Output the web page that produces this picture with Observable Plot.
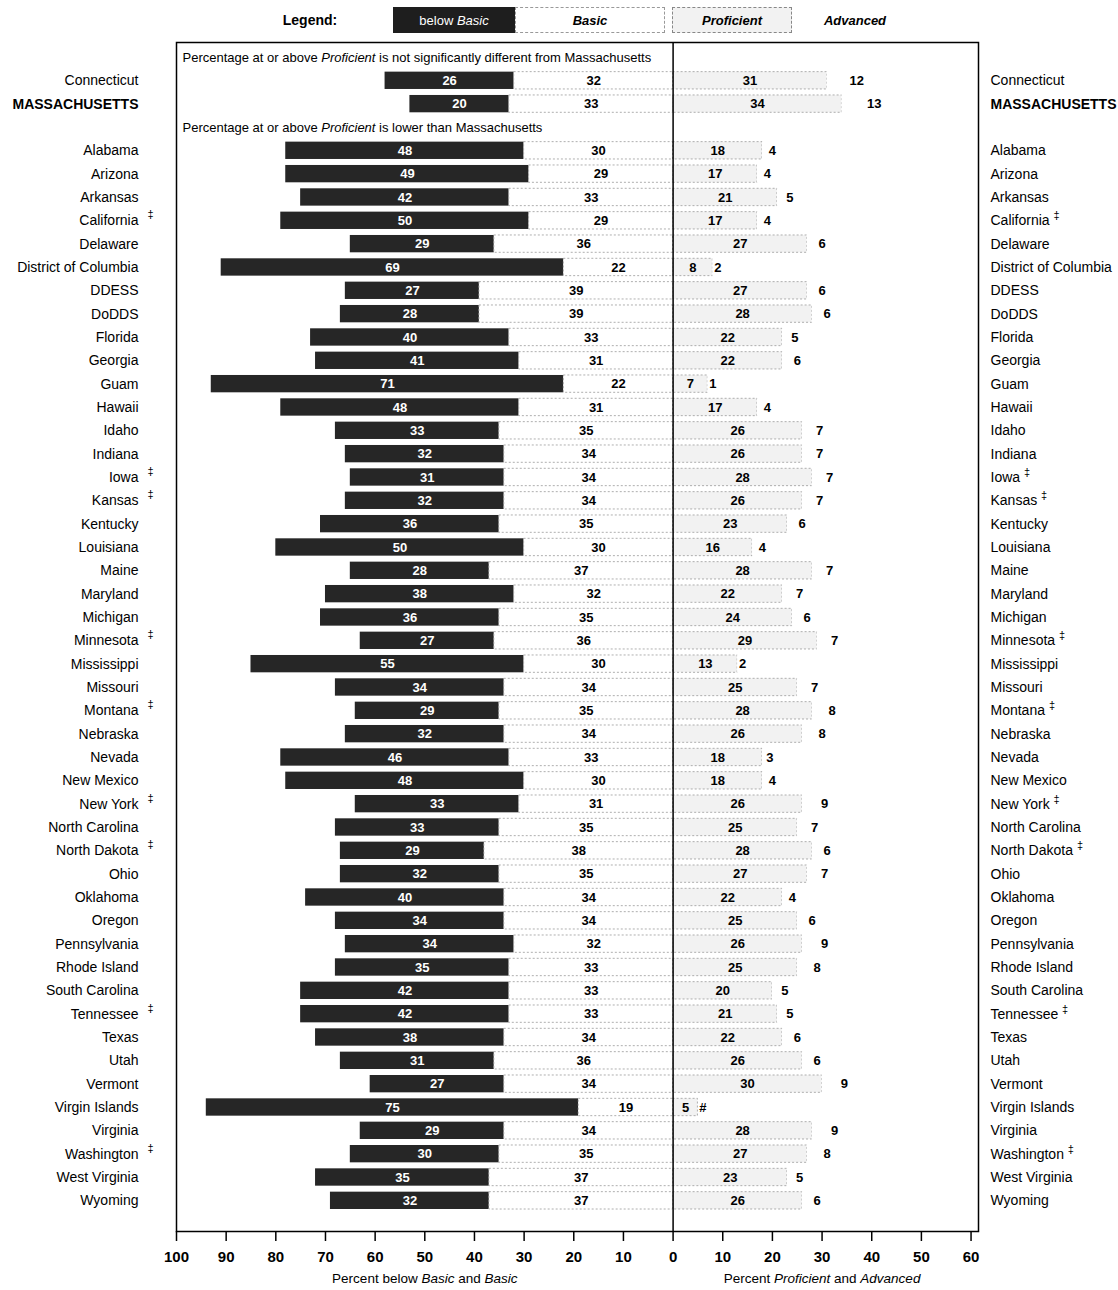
<!DOCTYPE html>
<html>
<head>
<meta charset="utf-8">
<script src="https://cdn.jsdelivr.net/npm/d3@7"></script>
<script src="https://cdn.jsdelivr.net/npm/@observablehq/plot@0.6"></script>
<style>
  body { margin: 0; background: #fff; font-family: "Liberation Sans", Arial, sans-serif; }
  #legend { position: relative; width: 1118px; height: 40px; }
  #legend div { position: absolute; box-sizing: border-box; font-weight: bold; font-size: 13px; display: flex; align-items: center; justify-content: center; }
  #chart svg { display: block; }
</style>
</head>
<body>
<div id="legend">
  <div style="left:270px;top:7px;width:80px;height:26px;font-size:14px;">Legend:</div>
  <div style="left:393px;top:7px;width:122px;height:26px;background:#1e1e1e;color:#fff;font-weight:normal;">below&nbsp;<i>Basic</i></div>
  <div style="left:515px;top:7px;width:150px;height:26px;border:1px dashed #999;font-style:italic;">Basic</div>
  <div style="left:672px;top:7px;width:120px;height:26px;border:1px dashed #888;background:#f2f2f2;font-style:italic;">Proficient</div>
  <div style="left:815px;top:7px;width:80px;height:26px;font-style:italic;">Advanced</div>
</div>
<div id="chart"></div>
<script>
// ---- data ----
const headers = [
  "Percentage at or above *Proficient* is not significantly different from Massachusetts",
  "Percentage at or above *Proficient* is lower than Massachusetts"
];
const groupTop = ["Connecticut", "MASSACHUSETTS"];
const groupLower = ["Alabama","Arizona","Arkansas","California","Delaware","District of Columbia","DDESS","DoDDS","Florida","Georgia","Guam","Hawaii","Idaho","Indiana","Iowa","Kansas","Kentucky","Louisiana","Maine","Maryland","Michigan","Minnesota","Mississippi","Missouri","Montana","Nebraska","Nevada","New Mexico","New York","North Carolina","North Dakota","Ohio","Oklahoma","Oregon","Pennsylvania","Rhode Island","South Carolina","Tennessee","Texas","Utah","Vermont","Virgin Islands","Virginia","Washington","West Virginia","Wyoming"];
const belowBasic = [26,20, 48,49,42,50,29,69,27,28,40,41,71,48,33,32,31,32,36,50,28,38,36,27,55,34,29,32,46,48,33,33,29,32,40,34,34,35,42,42,38,31,27,75,29,30,35,32];
const basic      = [32,33, 30,29,33,29,36,22,39,39,33,31,22,31,35,34,34,34,35,30,37,32,35,36,30,34,35,34,33,30,31,35,38,35,34,34,32,33,33,33,34,36,34,19,34,35,37,37];
const proficient = [31,34, 18,17,21,17,27,8,27,28,22,22,7,17,26,26,28,26,23,16,28,22,24,29,13,25,28,26,18,18,26,25,28,27,22,25,26,25,20,21,22,26,30,5,28,27,23,26];
const advanced   = [12,13, 4,4,5,4,6,2,6,6,5,6,1,4,7,7,7,7,6,4,7,7,6,7,2,7,8,8,3,4,9,7,6,7,4,6,9,8,5,5,6,6,9,0,9,8,5,6];
const advancedText = {"Virgin Islands": "#"}; // rounds to zero
const daggers = ["California","Iowa","Kansas","Minnesota","Montana","New York","North Dakota","Tennessee","Washington"];
const xTicks = [-100,-90,-80,-70,-60,-50,-40,-30,-20,-10,0,10,20,30,40,50,60];
const axisTitles = [
  {x: -50, text: "Percent below *Basic* and *Basic*"},
  {x: 30, text: "Percent *Proficient* and *Advanced*"}
];

// ---- build table ----
const names = [...groupTop, ...groupLower];
const rows = names.map((name, i) => ({
  key: name, name,
  bb: belowBasic[i], basic: basic[i], prof: proficient[i], adv: advanced[i],
  advLabel: advancedText[name] ?? String(advanced[i]),
  dagger: daggers.includes(name)
}));
const slots = ["h1", ...groupTop, "h2", ...groupLower];
const headerRows = [{key: "h1", text: headers[0]}, {key: "h2", text: headers[1]}];

const FONT = '"Liberation Sans", Arial, sans-serif';
const inset = {insetTop: 3, insetBottom: 3};
const segStroke = {stroke: "#9a9a9a", strokeDasharray: "2,2", strokeWidth: 0.8};
const NUM = {fontSize: 13, fontWeight: "bold"};

const chart = Plot.plot({
  width: 1118,
  height: 1250,
  marginLeft: 176,
  marginRight: 140,
  marginTop: 2,
  marginBottom: 59,
  style: {fontFamily: FONT, background: "white", overflow: "visible", color: "black"},
  x: {domain: [-100, 61.5]},
  y: {type: "band", domain: slots, range: [5.3, 1172], padding: 0, round: false, axis: null},
  marks: [
    // bars
    Plot.barX(rows, {y: "key", x1: d => -(d.bb + d.basic), x2: d => -d.basic, fill: "#262626", ...inset}),
    Plot.barX(rows, {y: "key", x1: d => -d.basic, x2: 0, fill: "white", ...segStroke, ...inset}),
    Plot.barX(rows, {y: "key", x1: 0, x2: d => d.prof, fill: "#f2f2f2", ...segStroke, ...inset}),
    Plot.barX(rows, {y: "key", x1: d => d.prof, x2: d => d.prof + d.adv, fill: "white", ...inset}),
    // value labels
    Plot.text(rows, {y: "key", x: d => -(d.basic + d.bb / 2), text: d => String(d.bb), fill: "white", ...NUM}),
    Plot.text(rows, {y: "key", x: d => -d.basic / 2, text: d => String(d.basic), fill: "black", ...NUM}),
    Plot.text(rows, {y: "key", x: d => d.prof / 2, text: d => String(d.prof), fill: "black", ...NUM}),
    Plot.text(rows, {y: "key", x: d => d.prof + Math.max(d.adv, 2) / 2, text: "advLabel", fill: "black", ...NUM}),
    // section headers
    Plot.text(headerRows, {y: "key", text: "text", frameAnchor: "left", dx: 6, textAnchor: "start", fontSize: 13}),
    // row labels left
    Plot.text(rows.filter(d => d.name !== "MASSACHUSETTS"), {y: "key", text: "name", frameAnchor: "left", dx: -38, textAnchor: "end", fontSize: 14}),
    Plot.text(rows.filter(d => d.name === "MASSACHUSETTS"), {y: "key", text: "name", frameAnchor: "left", dx: -38, textAnchor: "end", fontSize: 14, fontWeight: "bold"}),
    Plot.text(rows.filter(d => d.dagger), {y: "key", text: () => "‡", frameAnchor: "left", dx: -29, dy: -6, fontSize: 11}),
    // row labels right
    Plot.text(rows.filter(d => d.name !== "MASSACHUSETTS"), {y: "key", text: d => d.name + (d.dagger ? " ^‡^" : ""), frameAnchor: "right", dx: 12, textAnchor: "start", fontSize: 14}),
    Plot.text(rows.filter(d => d.name === "MASSACHUSETTS"), {y: "key", text: "name", frameAnchor: "right", dx: 12, textAnchor: "start", fontSize: 14, fontWeight: "bold"}),
    // frame and zero line
    Plot.frame({stroke: "black", strokeWidth: 1.5}),
    Plot.ruleX([0], {stroke: "black", strokeWidth: 1.5}),
    // axis
    Plot.axisX({ticks: xTicks, tickFormat: d => String(Math.abs(d)), tickSize: 10, tickPadding: 10, fontSize: 15, fontWeight: "bold", label: null, strokeWidth: 1.5}),
    Plot.text(axisTitles, {x: "x", text: "text", frameAnchor: "bottom", dy: 51, fontSize: 13.5})
  ]
});

// rich text: *italic* and ^superscript^
function richify(svg) {
  const NS = "http://www.w3.org/2000/svg";
  svg.querySelectorAll("text").forEach(t => {
    const s = t.textContent;
    if (!/[*^]/.test(s)) return;
    while (t.firstChild) t.removeChild(t.firstChild);
    for (const p of s.split(/(\*[^*]+\*|\^[^^]+\^)/)) {
      if (!p) continue;
      const ts = document.createElementNS(NS, "tspan");
      if (p.startsWith("*")) { ts.setAttribute("font-style", "italic"); ts.textContent = p.slice(1, -1); }
      else if (p.startsWith("^")) { ts.setAttribute("font-size", "11"); ts.setAttribute("dy", "-6"); ts.textContent = p.slice(1, -1); }
      else ts.textContent = p;
      t.appendChild(ts);
    }
  });
}
richify(chart);
document.getElementById("chart").appendChild(chart);
</script>
</body>
</html>
